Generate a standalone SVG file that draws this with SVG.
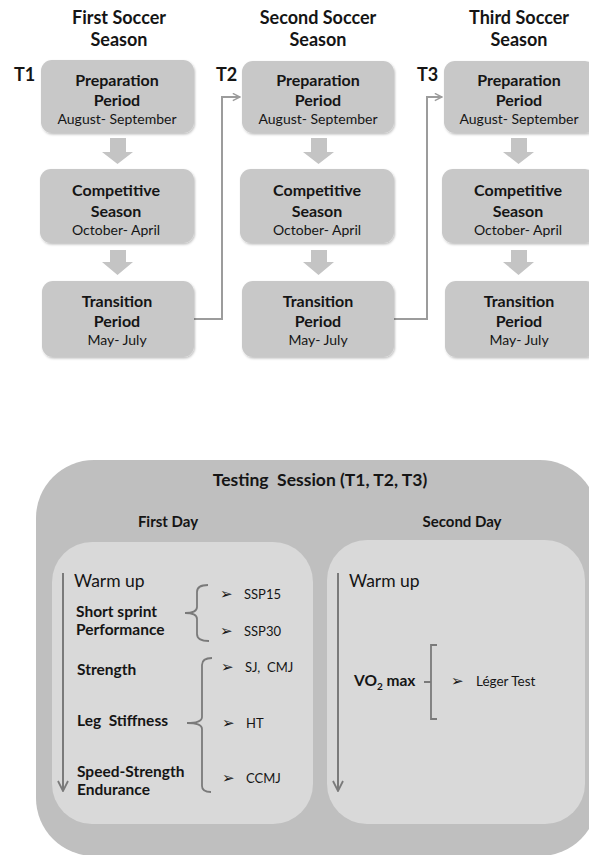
<svg xmlns="http://www.w3.org/2000/svg" width="589" height="855" viewBox="0 0 589 855">
<defs>
<style>
.t{font-family:Lato,"Open Sans",sans-serif;fill:#151515;}
.b{font-weight:bold;}
.hd{font-size:18px;font-weight:bold;text-anchor:middle;}
.bx{fill:#c8c8c8;filter:url(#sh);}
.bt{font-size:16px;font-weight:bold;text-anchor:middle;}
.bn{font-size:14px;text-anchor:middle;}
.blk{fill:#c4c4c4;}
.con{fill:none;stroke:#9c9c9c;stroke-width:2;}
.br{fill:none;stroke:#7a7a7a;stroke-width:1.8;}
.ax{fill:none;stroke:#7a7a7a;stroke-width:2;}
.dg{font-family:"DejaVu Sans",sans-serif;font-size:15px;fill:#151515;}
.it{font-size:13px;}
.lb{font-size:15.5px;font-weight:bold;}
</style>
<filter id="sh" x="-10%" y="-10%" width="120%" height="130%">
<feDropShadow dx="1" dy="1.5" stdDeviation="1" flood-color="#000" flood-opacity="0.25"/>
</filter>
<marker id="ah" viewBox="0 0 10 10" refX="9" refY="5" markerWidth="9" markerHeight="9" markerUnits="userSpaceOnUse" orient="auto">
<path d="M1,1 L9,5 L1,9" fill="none" stroke="#9c9c9c" stroke-width="1.6"/>
</marker>
<marker id="ad" viewBox="0 0 12 12" refX="11" refY="6" markerWidth="12" markerHeight="12" markerUnits="userSpaceOnUse" orient="auto">
<path d="M1,1 L11,6 L1,11" fill="none" stroke="#7a7a7a" stroke-width="1.8"/>
</marker>
</defs>
<rect width="589" height="855" fill="#ffffff"/>

<g id="headers">
<text class="t hd" x="119" y="24">First Soccer</text>
<text class="t hd" x="119" y="46">Season</text>
<text class="t hd" x="318" y="24">Second Soccer</text>
<text class="t hd" x="318" y="46">Season</text>
<text class="t hd" x="519" y="24">Third Soccer</text>
<text class="t hd" x="519" y="46">Season</text>
<text class="t b" x="14" y="81" font-size="18">T1</text>
<text class="t b" x="216" y="81" font-size="18">T2</text>
<text class="t b" x="417" y="81" font-size="18">T3</text>
</g>

<g id="connectors">
<path class="blk" d="M110,138 H126 V152 H133 L117.5,164 L102,152 H110 Z"/>
<path class="blk" d="M110,250 H126 V262 H133 L117.5,275 L102,262 H110 Z"/>
<path class="blk" d="M311,138 H327 V152 H334 L318.5,164 L303,152 H311 Z"/>
<path class="blk" d="M311,250 H327 V262 H334 L318.5,275 L303,262 H311 Z"/>
<path class="blk" d="M511,138 H527 V152 H534 L518.5,164 L503,152 H511 Z"/>
<path class="blk" d="M511,250 H527 V262 H534 L518.5,275 L503,262 H511 Z"/>
<path class="con" d="M194,319 H222 V97 H240" marker-end="url(#ah)"/>
<path class="con" d="M394,319 H427 V97 H442" marker-end="url(#ah)"/>
</g>

<g id="s1-prep">
<rect class="bx" x="41" y="60" width="153" height="73" rx="11"/>
<text class="t bt" x="117" y="86">Preparation</text>
<text class="t bt" x="117" y="106">Period</text>
<text class="t bn" x="117" y="124">August- September</text>
</g>
<g id="s1-comp">
<rect class="bx" x="40" y="169" width="154" height="74" rx="11"/>
<text class="t bt" x="116" y="196">Competitive</text>
<text class="t bt" x="116" y="217">Season</text>
<text class="t bn" x="116" y="235">October- April</text>
</g>
<g id="s1-trans">
<rect class="bx" x="42" y="281" width="152" height="76" rx="11"/>
<text class="t bt" x="117" y="307">Transition</text>
<text class="t bt" x="117" y="327">Period</text>
<text class="t bn" x="117" y="345">May- July</text>
</g>

<g id="s2-prep">
<rect class="bx" x="242" y="61" width="152" height="72" rx="11"/>
<text class="t bt" x="318" y="86">Preparation</text>
<text class="t bt" x="318" y="106">Period</text>
<text class="t bn" x="318" y="124">August- September</text>
</g>
<g id="s2-comp">
<rect class="bx" x="240" y="169" width="154" height="74" rx="11"/>
<text class="t bt" x="317" y="196">Competitive</text>
<text class="t bt" x="317" y="217">Season</text>
<text class="t bn" x="317" y="235">October- April</text>
</g>
<g id="s2-trans">
<rect class="bx" x="242" y="281" width="152" height="76" rx="11"/>
<text class="t bt" x="318" y="307">Transition</text>
<text class="t bt" x="318" y="327">Period</text>
<text class="t bn" x="318" y="345">May- July</text>
</g>

<g id="s3-prep">
<rect class="bx" x="444" y="61" width="152" height="72" rx="11"/>
<text class="t bt" x="519" y="86">Preparation</text>
<text class="t bt" x="519" y="106">Period</text>
<text class="t bn" x="519" y="124">August- September</text>
</g>
<g id="s3-comp">
<rect class="bx" x="442" y="169" width="154" height="74" rx="11"/>
<text class="t bt" x="518" y="196">Competitive</text>
<text class="t bt" x="518" y="217">Season</text>
<text class="t bn" x="518" y="235">October- April</text>
</g>
<g id="s3-trans">
<rect class="bx" x="445" y="281" width="152" height="76" rx="11"/>
<text class="t bt" x="519" y="307">Transition</text>
<text class="t bt" x="519" y="327">Period</text>
<text class="t bn" x="519" y="345">May- July</text>
</g>

<g id="testing-session">
<rect x="36" y="460" width="562" height="396" rx="58" fill="#bfbfbf"/>
<text class="t b" x="320" y="486" font-size="17.5" text-anchor="middle">Testing&#160; Session (T1, T2, T3)</text>
<text class="t b" x="168" y="527" font-size="15" text-anchor="middle">First Day</text>
<text class="t b" x="462" y="527" font-size="15" text-anchor="middle">Second Day</text>
</g>

<g id="first-day">
<rect x="52" y="542" width="261" height="282" rx="40" fill="#d9d9d9"/>
<line class="ax" x1="63" y1="573" x2="63" y2="791" marker-end="url(#ad)"/>
<text class="t" x="74" y="587" font-size="17.5">Warm up</text>
<text class="t lb" x="76" y="617">Short sprint</text>
<text class="t lb" x="76" y="635">Performance</text>
<path class="br" d="M208,585 Q197,585 197,592 L197,607 Q197,613 185,613 Q197,613 197,619 L197,634 Q197,641 209,641"/>
<text class="dg" x="220" y="599">➢</text>
<text class="t it" x="244" y="599">SSP15</text>
<text class="dg" x="220" y="636">➢</text>
<text class="t it" x="244" y="636">SSP30</text>
<text class="t lb" x="77" y="675">Strength</text>
<path class="br" d="M212,658 Q202,658 202,665 L202,717 Q202,723 187,723 Q202,723 202,729 L202,786 Q202,792 211,792"/>
<text class="dg" x="221" y="672">➢</text>
<text class="t it" x="245" y="672">SJ,&#160; CMJ</text>
<text class="t lb" x="77" y="726">Leg&#160; Stiffness</text>
<text class="dg" x="222" y="728">➢</text>
<text class="t it" x="246" y="728">HT</text>
<text class="t lb" x="77" y="777">Speed-Strength</text>
<text class="t lb" x="77" y="795">Endurance</text>
<text class="dg" x="222" y="783">➢</text>
<text class="t it" x="246" y="783">CCMJ</text>
</g>

<g id="second-day">
<rect x="327" y="540" width="258" height="284" rx="40" fill="#d9d9d9"/>
<line class="ax" x1="338" y1="573" x2="338" y2="791" marker-end="url(#ad)"/>
<text class="t" x="349" y="587" font-size="17.5">Warm up</text>
<text class="t lb" x="354" y="686">VO<tspan font-size="10" dy="4">2</tspan><tspan dy="-4"> max</tspan></text>
<path class="br" d="M437,645 L431,645 L431,719 L437,719 M424,682 L431,682"/>
<text class="dg" x="451" y="686">➢</text>
<text class="t" x="476" y="686" font-size="13.5">Léger Test</text>
</g>
</svg>
